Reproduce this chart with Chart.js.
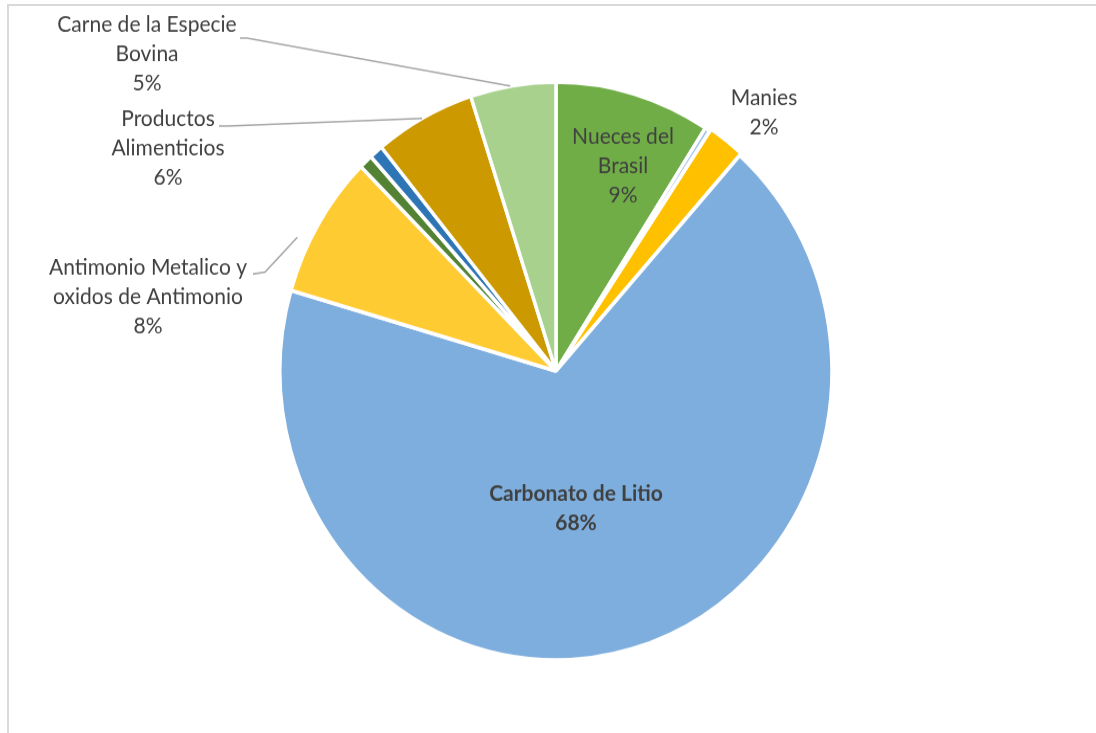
<!DOCTYPE html>
<html>
<head>
<meta charset="utf-8">
<script src="https://cdn.jsdelivr.net/npm/chart.js@4/dist/chart.umd.min.js"></script>
<style>
  body { margin: 0; background: #fff; overflow: hidden; }
  #wrap { position: relative; width: 1096px; height: 733px; overflow: hidden; }
  #frame { position: absolute; left: 7px; top: 4px; right: -10px; bottom: -10px;
           border-left: 2px solid #d9d9d9; border-top: 2px solid #d9d9d9; }
  /* the original picture is a little stretched vertically */
  canvas { position: absolute; left: 0; top: 0;
           transform: scaleY(1.047); transform-origin: 556px 371px; }
</style>
</head>
<body>
<div id="wrap">
  <div id="frame"></div>
  <canvas id="pieChart" width="1096" height="733"></canvas>
</div>
<script>
// export shares, %, clockwise from 12 o'clock
var productos = ['Nueces del Brasil', 'Otros (a)', 'Manies', 'Carbonato de Litio',
                 'Antimonio Metalico y oxidos de Antimonio', 'Otros (b)', 'Otros (c)',
                 'Productos Alimenticios', 'Carne de la Especie Bovina'];
var porcentajes = [9.1, 0.3, 2.2, 67.9, 8.0, 0.8, 0.8, 5.9, 5.0];
var etiquetas = ['9%', '', '2%', '68%', '8%', '', '', '6%', '5%'];

var colores = ['#70ad47', '#9dc3e6', '#ffc000', '#7eaedd', '#ffcb33',
               '#548235', '#2e75b6', '#cc9900', '#a9d18e'];

var stretch = 1.047;

// label placement in screen pixels, relative to the pie centre
// leader: two points of the stub, then f = position along the slice, r = radius factor
var labelLayout = [
  {i: 0, lines: ['Nueces del', 'Brasil'], dx: 67, dy: -234},
  {i: 2, lines: ['Manies'], dx: 208, dy: -273},
  {i: 3, lines: ['Carbonato de Litio'], dx: 20, dy: 123, bold: true},
  {i: 4, lines: ['Antimonio Metalico y', 'oxidos de Antimonio'], dx: -408, dy: -103,
   leader: [[-303, -97], [-291, -99]], f: 0.35, r: 1.045},
  {i: 7, lines: ['Productos', 'Alimenticios'], dx: -388, dy: -252,
   leader: [[-337, -245], [-328, -245]], f: 0.48, r: 1.0},
  {i: 8, lines: ['Carne de la Especie', 'Bovina'], dx: -409, dy: -346,
   leader: [[-316, -333], [-309, -333]], f: 0.47, r: 1.0}
];

var lineH = 29.3;
var fontFam = 'Lato, "Open Sans", sans-serif';

var pieLabels = {
  id: 'pieLabels',
  afterDatasetsDraw: function(chart) {
    var ctx = chart.ctx;
    var arcs = chart.getDatasetMeta(0).data;
    var cx = arcs[0].x, cy = arcs[0].y;
    ctx.save();
    labelLayout.forEach(function(l) {
      var arc = arcs[l.i];
      if (l.leader) {
        var a = arc.startAngle + (arc.endAngle - arc.startAngle) * l.f;
        var R = arc.outerRadius * l.r;
        ctx.strokeStyle = '#a6a6a6';
        ctx.lineWidth = 1.6;
        ctx.beginPath();
        ctx.moveTo(cx + l.leader[0][0], cy + l.leader[0][1] / stretch);
        ctx.lineTo(cx + l.leader[1][0], cy + l.leader[1][1] / stretch);
        ctx.lineTo(cx + Math.cos(a) * R, cy + Math.sin(a) * R);
        ctx.stroke();
      }
      var lines = l.lines.concat([etiquetas[l.i]]);
      ctx.fillStyle = '#404040';
      ctx.font = (l.bold ? 'bold ' : '') + '21px ' + fontFam;
      ctx.textAlign = 'center';
      ctx.textBaseline = 'middle';
      lines.forEach(function(t, k) {
        ctx.fillText(t, cx + l.dx, cy + (l.dy + k * lineH) / stretch);
      });
    });
    ctx.restore();
  }
};

new Chart(document.getElementById('pieChart'), {
  type: 'pie',
  data: {
    labels: productos,
    datasets: [{
      data: porcentajes,
      backgroundColor: colores,
      borderColor: '#ffffff',
      borderWidth: 3.5,
      offset: [0, 0, 5, 0, 0, 0, 0, 0, 0]
    }]
  },
  options: {
    responsive: false,
    animation: false,
    radius: 276,
    layout: { padding: { left: 16, right: 0, top: 9, bottom: 0 } },
    plugins: {
      legend: { display: false },
      tooltip: { enabled: false }
    }
  },
  plugins: [pieLabels]
});
</script>
</body>
</html>
